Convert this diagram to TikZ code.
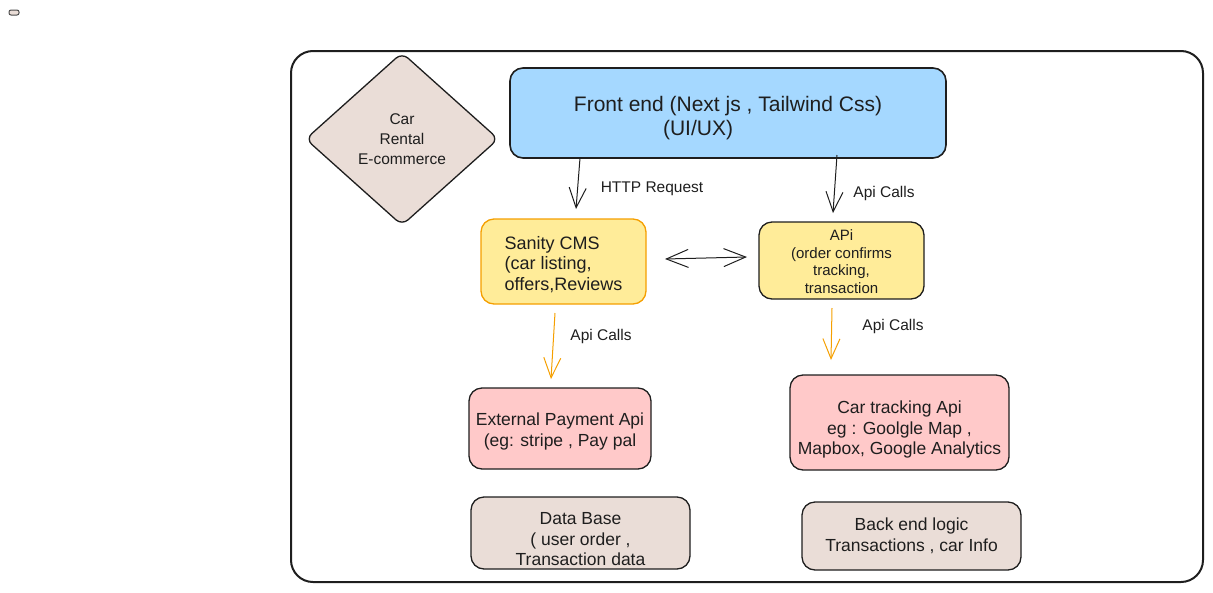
\documentclass[tikz,border=0pt]{standalone}
\usepackage{fontspec}
\setmainfont{Liberation Sans}
\usetikzlibrary{shapes.geometric,arrows.meta}

\definecolor{ink}{HTML}{1E1E1E}
\definecolor{frontblue}{HTML}{A5D8FF}
\definecolor{cmsyellow}{HTML}{FFEC99}
\definecolor{apipink}{HTML}{FFC9C9}
\definecolor{sandbeige}{HTML}{EADDD7}
\definecolor{callorange}{HTML}{F59F00}

% invisible strut that pushes a box's text down
\newcommand{\padtop}[1]{\rule{0pt}{#1}}

\begin{document}
\begin{tikzpicture}[x=1pt, y=-1pt,
    box/.style={draw=ink, line width=1.3pt, rounded corners=13pt, inner sep=0pt, align=center, text=ink, font=\fontsize{17.5}{20.5}\selectfont},
    lbl/.style={text=ink, inner sep=0pt, font=\fontsize{15.5}{18}\selectfont},
    flow/.style={draw=ink, line width=1pt, -{Straight Barb[length=20pt, width=17pt]}},
    callflow/.style={draw=callorange, line width=1pt, -{Straight Barb[length=20pt, width=17pt]}}]
    \useasboundingbox (0,0) rectangle (1213,592);

    % Draw the small marker and the outer frame
    \draw[draw=ink!80, fill=sandbeige, line width=1pt, rounded corners=2pt] (9,10) rectangle (19,15);
    \draw[ink, line width=2pt, rounded corners=22pt] (291,51) rectangle (1203,582);

    % Title diamond
    \node[draw=ink, fill=sandbeige, line width=1.3pt, shape=diamond, rounded corners=8pt, minimum width=193pt, minimum height=173pt, inner sep=0pt, align=center, text=ink, font=\fontsize{15.5}{19.7}\selectfont] (brand) at (402,139) {Car\\Rental\\E-commerce};

    % Front end
    \node[box, fill=frontblue, line width=1.6pt, minimum width=436pt, minimum height=90pt, font=\fontsize{21}{24}\selectfont] (frontend) at (728,113) {\padtop{25pt}Front end (Next js , Tailwind Css)\\(UI/UX)\hspace*{60pt}};

    % Middle row: CMS and API
    \node[box, fill=cmsyellow, draw=callorange, align=left, minimum width=165pt, minimum height=85pt, font=\fontsize{18}{20.5}\selectfont] (cms) at (563.5,261.5) {\padtop{19pt}Sanity CMS\\(car listing,\\offers,Reviews};
    \node[box, fill=cmsyellow, minimum width=165pt, minimum height=77pt, font=\fontsize{15}{17.5}\selectfont] (api) at (841.5,260.5) {\padtop{13.5pt}APi\\(order confirms\\tracking,\\transaction};

    % External services
    \node[box, fill=apipink, minimum width=182pt, minimum height=81pt] (payment) at (560,428.5) {\padtop{19pt}External Payment Api\\(eg: stripe , Pay pal};
    \node[box, fill=apipink, minimum width=219pt, minimum height=95pt] (tracking) at (899.5,422.5) {\padtop{27pt}Car tracking Api\\eg : Goolgle Map ,\\Mapbox, Google Analytics};

    % Storage and back end
    \node[box, fill=sandbeige, minimum width=219pt, minimum height=72pt] (database) at (580.5,533) {\padtop{25pt}Data Base\\( user order ,\\Transaction data};
    \node[box, fill=sandbeige, minimum width=219pt, minimum height=68pt] (backend) at (911.5,536) {Back end logic\\Transactions , car Info};

    % Arrow ends
    \coordinate (httpFrom) at (580,158);
    \coordinate (httpTo) at (576,209);
    \coordinate (callsFrom) at (837,155);
    \coordinate (callsTo) at (833,213);
    \coordinate (swapLeft) at (665,259);
    \coordinate (swapRight) at (747,257);
    \coordinate (cmsCallFrom) at (555,313);
    \coordinate (cmsCallTo) at (551,379);
    \coordinate (apiCallFrom) at (832,308);
    \coordinate (apiCallTo) at (831,360);

    % Requests from the front end
    \draw[flow] (httpFrom) -- (httpTo);
    \draw[flow] (callsFrom) -- (callsTo);
    \node[lbl] (httpLbl) at (652,189) {HTTP Request};
    \node[lbl] (callsTop) at (884,193) {Api Calls};

    % CMS <-> API
    \draw[draw=ink, line width=1pt, {Straight Barb[length=22pt, width=18pt]}-{Straight Barb[length=22pt, width=18pt]}] (swapLeft) -- (swapRight);

    % Calls to the external services
    \draw[callflow] (cmsCallFrom) -- (cmsCallTo);
    \draw[callflow] (apiCallFrom) -- (apiCallTo);
    \node[lbl] (callsLeft) at (601,336) {Api Calls};
    \node[lbl] (callsRight) at (893,326) {Api Calls};
\end{tikzpicture}
\end{document}
